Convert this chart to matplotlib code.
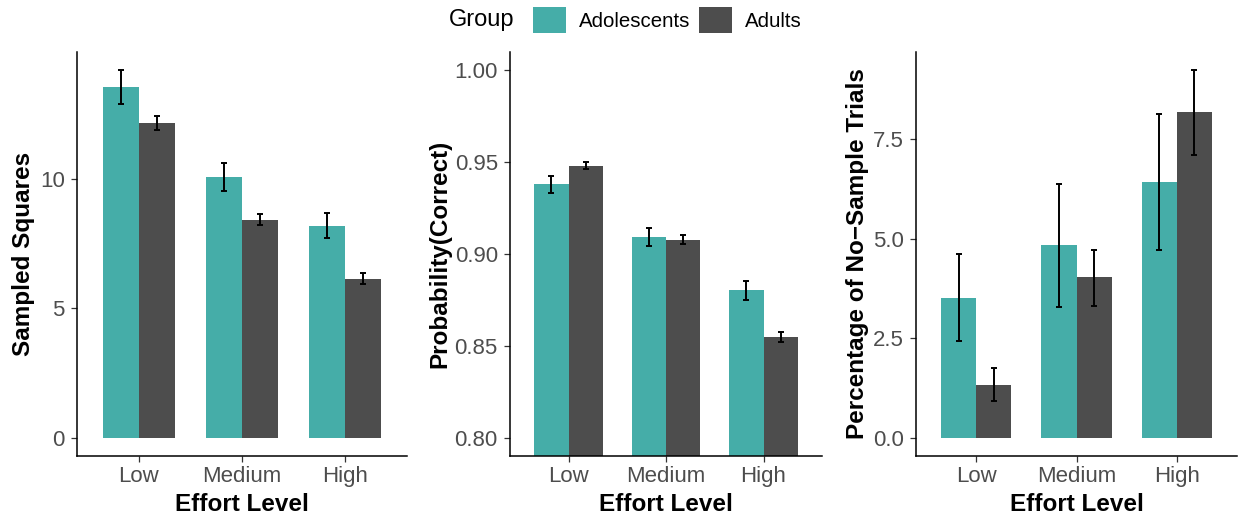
import matplotlib
matplotlib.use("Agg")
import matplotlib.pyplot as plt
import numpy as np
from matplotlib.patches import Patch

plt.rcParams['font.family'] = ['Liberation Sans', 'DejaVu Sans']

effort_levels = ["Low", "Medium", "High"]
groups = ["Adolescents", "Adults"]
group_colors = ["#45ADA8", "#4D4D4D"]

# Panel 1: Sampled Squares
squares_adol = [13.53, 10.07, 8.18]
squares_adol_lo = [12.90, 9.54, 7.69]
squares_adol_hi = [14.18, 10.60, 8.67]
squares_adult = [12.15, 8.40, 6.14]
squares_adult_lo = [11.88, 8.22, 5.94]
squares_adult_hi = [12.41, 8.64, 6.37]

# Panel 2: Probability(Correct)
correct_adol = [0.9379, 0.9091, 0.8803]
correct_adol_lo = [0.9332, 0.9042, 0.8748]
correct_adol_hi = [0.9424, 0.9143, 0.8855]
correct_adult = [0.9477, 0.9074, 0.8547]
correct_adult_lo = [0.9462, 0.9054, 0.8520]
correct_adult_hi = [0.9500, 0.9102, 0.8576]

# Panel 3: Percentage of No-Sample Trials
nosample_adol = [3.50, 4.84, 6.42]
nosample_adol_lo = [2.42, 3.29, 4.71]
nosample_adol_hi = [4.62, 6.39, 8.13]
nosample_adult = [1.33, 4.03, 8.18]
nosample_adult_lo = [0.92, 3.31, 7.12]
nosample_adult_hi = [1.76, 4.73, 9.24]

W, H = 1238, 520
fig = plt.figure(figsize=(W / 100, H / 100), dpi=100)

def px_axes(l, r, t, b):
    return fig.add_axes([l / W, (H - b) / H, (r - l) / W, (b - t) / H])

panels = [
    dict(rect=(77, 407, 52, 456), ylabel="Sampled Squares",
         series=[(squares_adol, squares_adol_lo, squares_adol_hi),
                 (squares_adult, squares_adult_lo, squares_adult_hi)],
         ylim=(-0.709, 14.89), yticks=[0, 5, 10], yfmt="{:g}", lp=3.5),
    dict(rect=(510, 822, 52, 456), ylabel="Probability(Correct)",
         series=[(correct_adol, correct_adol_lo, correct_adol_hi),
                 (correct_adult, correct_adult_lo, correct_adult_hi)],
         ylim=(0.79, 1.01), yticks=[0.80, 0.85, 0.90, 0.95, 1.00], yfmt="{:.2f}", lp=2),
    dict(rect=(916, 1237, 52, 456), ylabel="Percentage of No\u2212Sample Trials",
         series=[(nosample_adol, nosample_adol_lo, nosample_adol_hi),
                 (nosample_adult, nosample_adult_lo, nosample_adult_hi)],
         ylim=(-0.462, 9.70), yticks=[0.0, 2.5, 5.0, 7.5], yfmt="{:.1f}", lp=2.5),
]

x = np.arange(len(effort_levels))
bw = 0.35
for p in panels:
    ax = px_axes(*p["rect"])
    for gi, (vals, lo, hi) in enumerate(p["series"]):
        xs = x + (gi - 0.5) * bw
        ax.bar(xs, vals, width=bw, color=group_colors[gi], zorder=2, linewidth=0)
        vals_a = np.array(vals); lo_a = np.array(lo); hi_a = np.array(hi)
        ax.errorbar(xs, vals_a, yerr=[vals_a - lo_a, hi_a - vals_a], fmt='none',
                    ecolor='black', elinewidth=1.4, capsize=2.5, capthick=1.4, zorder=3)
    ax.set_xlim(-0.6, 2.6)
    ax.set_ylim(*p["ylim"])
    ax.set_xticks(x)
    ax.set_xticklabels(effort_levels)
    ax.set_yticks(p["yticks"])
    ax.set_yticklabels([p["yfmt"].format(v) for v in p["yticks"]])
    for s in ["top", "right"]:
        ax.spines[s].set_visible(False)
    for s in ["left", "bottom"]:
        ax.spines[s].set_linewidth(1.1)
        ax.spines[s].set_color("black")
    ax.tick_params(axis='both', length=4.3, width=0.9, color="#333333",
                   labelcolor="#4D4D4D", labelsize=16)
    ax.tick_params(axis='y', pad=4.5)
    ax.tick_params(axis='x', pad=3)
    ax.set_xlabel("Effort Level", fontsize=17.5, fontweight='bold', labelpad=4)
    ax.set_ylabel(p["ylabel"], fontsize=17.5, fontweight='bold', labelpad=p["lp"])

handles = [Patch(facecolor=c, edgecolor='none') for c in group_colors]
fig.legend(handles, groups, loc='center left', bbox_to_anchor=(533 / W, 1 - 20 / H),
           ncol=2, frameon=False, fontsize=14.7, handlelength=1.6, handleheight=1.6,
           handletextpad=0.67, columnspacing=0.4, borderaxespad=0, borderpad=0)
fig.text(449 / W, 1 - 20 / H, "Group", fontsize=17, va='center', ha='left')

fig.savefig("out.png", dpi=100)
